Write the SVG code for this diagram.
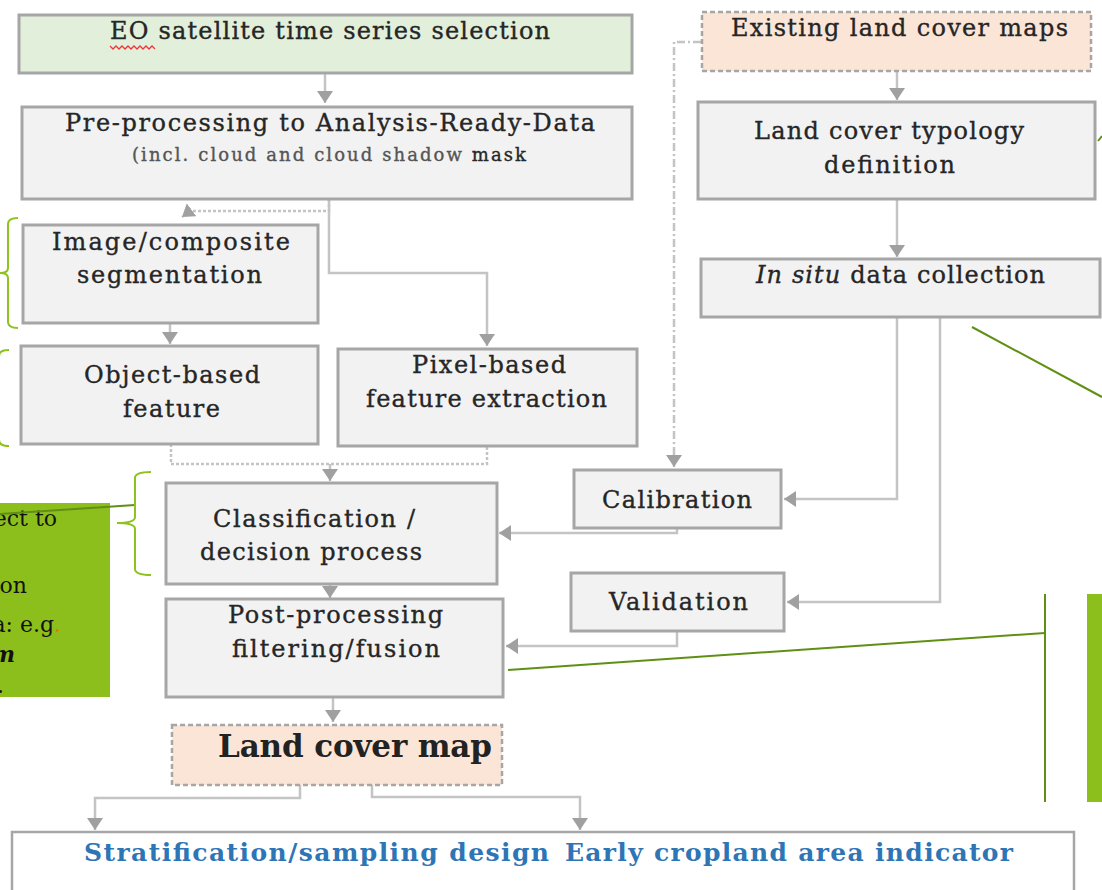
<svg xmlns="http://www.w3.org/2000/svg" width="1102" height="890" viewBox="0 0 1102 890">
  <style>
    .box { fill: #f2f2f2; stroke: #a6a6a6; stroke-width: 3; }
    .green { fill: #e2efda; stroke: #a6a6a6; stroke-width: 3; }
    .peach { fill: #fbe5d6; stroke: #a6a6a6; stroke-width: 2.5; stroke-dasharray: 5 3; }
    .t { font-family: "DejaVu Serif", "Liberation Serif", serif; font-size: 24px; fill: #262626; stroke: #262626; stroke-width: 0.35; }
    .small { font-size: 18px; fill: #555; stroke: #555; }
    .big { font-size: 31px; font-weight: bold; fill: #222; stroke: none; }
    .blue { font-size: 25px; font-weight: bold; fill: #2e75b6; stroke: none; }
    .note { font-family: "DejaVu Serif", "Liberation Serif", serif; font-size: 22px; fill: #111; }
    .conn { fill: none; stroke: #c4c4c4; stroke-width: 2.5; }
    .dotted { stroke-dasharray: 3 2; }
    .dashdot { stroke-dasharray: 8 3 2 3; }
    .brace { fill: none; stroke: #8dc21f; stroke-width: 2; }
    .lead { fill: none; stroke: #5f9014; stroke-width: 2; }
  </style>
  <defs>
    <marker id="ah" markerWidth="16" markerHeight="16" refX="12" refY="8" orient="auto" markerUnits="userSpaceOnUse">
      <path d="M0,0 L12,8 L0,16 z" fill="#a0a0a0"/>
    </marker>
  </defs>

  <!-- annotation shapes (green) -->
  <g id="annotations">
    <rect x="0" y="503" width="110" height="194" fill="#8cbf1c"/>
    <text class="note" x="57" y="526" text-anchor="end">ect to</text>
    <text class="note" x="27" y="593" text-anchor="end">on</text>
    <text class="note" x="61" y="632" text-anchor="end">a: e.g<tspan fill="#e07b00">.</tspan></text>
    <text class="note" x="15" y="662" text-anchor="end" font-weight="bold" font-style="italic">m</text>
    <text class="note" x="4" y="693" text-anchor="end">.</text>
    <path class="lead" d="M0,514 L135,505"/>
    <path class="brace" d="M18,218 Q8,218 8,224 V268 Q8,273 0,273 Q8,273 8,278 V322 Q8,328 18,328"/>
    <path class="brace" d="M9,350 Q-1,350 -1,356 V440 Q-1,446 9,446"/>
    <path class="brace" d="M151,472 Q135,472 135,478 V517 Q135,523 117,523 Q135,523 135,529 V569 Q135,575 151,575"/>
    <path class="lead" d="M972,327 L1102,397"/>
    <path class="lead" d="M508,670 L1045,633"/>
    <path class="lead" d="M1045,594 V802"/>
    <rect x="1087" y="594" width="15" height="208" fill="#8cbf1c"/>
    <path class="lead" d="M1098,141 L1102,136"/>
  </g>

  <!-- connectors -->
  <g id="connectors">
    <path class="conn" d="M325,73 V103" marker-end="url(#ah)"/>
    <path class="conn dotted" d="M329,199 V211 H190 L182,217" marker-end="url(#ah)"/>
    <path class="conn" d="M329,199 V273 H487 V346" marker-end="url(#ah)"/>
    <path class="conn" d="M170,323 V344" marker-end="url(#ah)"/>
    <path class="conn dotted" d="M171,444 V464 H487 V447"/>
    <path class="conn" d="M330,464 V481" marker-end="url(#ah)"/>
    <path class="conn" d="M330,584 V598" marker-end="url(#ah)"/>
    <path class="conn" d="M333,697 V722" marker-end="url(#ah)"/>
    <path class="conn" d="M300,785 V798 H95 V830" marker-end="url(#ah)"/>
    <path class="conn" d="M372,785 V797 H580 V830" marker-end="url(#ah)"/>
    <path class="conn" d="M897,71 V100" marker-end="url(#ah)"/>
    <path class="conn" d="M897,199 V257" marker-end="url(#ah)"/>
    <path class="conn" d="M897,317 V499 H784" marker-end="url(#ah)"/>
    <path class="conn" d="M940,312 V602 H787" marker-end="url(#ah)"/>
    <path class="conn dashdot" d="M701,42 H674 V467" marker-end="url(#ah)"/>
    <path class="conn" d="M677,528 V533 H499" marker-end="url(#ah)"/>
    <path class="conn" d="M677,631 V646 H506" marker-end="url(#ah)"/>
  </g>

  <!-- process boxes -->
  <g id="eo-selection">
    <rect class="green" x="19" y="15" width="613" height="58"/>
    <text class="t" x="110" y="39" textLength="440">EO satellite time series selection</text>
    <path d="M110,46 l3,3 l3,-3 l3,3 l3,-3 l3,3 l3,-3 l3,3 l3,-3 l3,3 l3,-3 l3,3 l3,-3 l3,3 l3,-3 l3,3" fill="none" stroke="#e8383d" stroke-width="1.3"/>
  </g>

  <g id="pre-processing">
    <rect class="box" x="22" y="107" width="610" height="92"/>
    <text class="t" x="65" y="131" textLength="530">Pre-processing to Analysis-Ready-Data</text>
    <text class="t small" x="132" y="161" textLength="394">(incl. cloud and cloud shadow <tspan fill="#262626" stroke="#262626">mask</tspan></text>
  </g>

  <g id="segmentation">
    <rect class="box" x="23" y="225" width="295" height="98"/>
    <text class="t" x="52" y="250" textLength="238">Image/composite</text>
    <text class="t" x="77" y="283" textLength="185">segmentation</text>
  </g>

  <g id="object-features">
    <rect class="box" x="21" y="346" width="297" height="98"/>
    <text class="t" x="84" y="383" textLength="176">Object-based</text>
    <text class="t" x="123" y="417" textLength="97">feature</text>
  </g>

  <g id="pixel-features">
    <rect class="box" x="338" y="349" width="299" height="97"/>
    <text class="t" x="412" y="373" textLength="154">Pixel-based</text>
    <text class="t" x="366" y="407" textLength="241">feature extraction</text>
  </g>

  <g id="classification">
    <rect class="box" x="166" y="483" width="331" height="101"/>
    <text class="t" x="213" y="527" textLength="202">Classification /</text>
    <text class="t" x="200" y="560" textLength="222">decision process</text>
  </g>

  <g id="post-processing">
    <rect class="box" x="166" y="599" width="337" height="98"/>
    <text class="t" x="228" y="623" textLength="215">Post-processing</text>
    <text class="t" x="232" y="657" textLength="208">filtering/fusion</text>
  </g>

  <g id="existing-maps">
    <rect class="peach" x="702" y="12" width="389" height="59"/>
    <text class="t" x="731" y="36" textLength="337">Existing land cover maps</text>
  </g>

  <g id="typology">
    <rect class="box" x="698" y="102" width="397" height="97"/>
    <text class="t" x="754" y="139" textLength="270">Land cover typology</text>
    <text class="t" x="824" y="173" textLength="131">definition</text>
  </g>

  <g id="in-situ">
    <rect class="box" x="701" y="259" width="399" height="58"/>
    <text class="t" x="756" y="283" textLength="289"><tspan font-style="italic">In situ</tspan> data collection</text>
  </g>

  <g id="calibration">
    <rect class="box" x="574" y="470" width="207" height="58"/>
    <text class="t" x="602" y="508" textLength="150">Calibration</text>
  </g>

  <g id="validation">
    <rect class="box" x="571" y="573" width="213" height="58"/>
    <text class="t" x="609" y="610" textLength="139">Validation</text>
  </g>

  <g id="land-cover-map">
    <rect class="peach" x="172" y="725" width="330" height="60"/>
    <text class="t big" x="218" y="757" textLength="274">Land cover map</text>
  </g>

  <g id="applications">
    <rect x="12" y="832" width="1062" height="70" fill="#ffffff" stroke="#a6a6a6" stroke-width="2.5"/>
    <text class="t blue" x="84" y="861" textLength="465">Stratification/sampling design</text>
    <text class="t blue" x="565" y="861" textLength="448">Early cropland area indicator</text>
  </g>
</svg>
